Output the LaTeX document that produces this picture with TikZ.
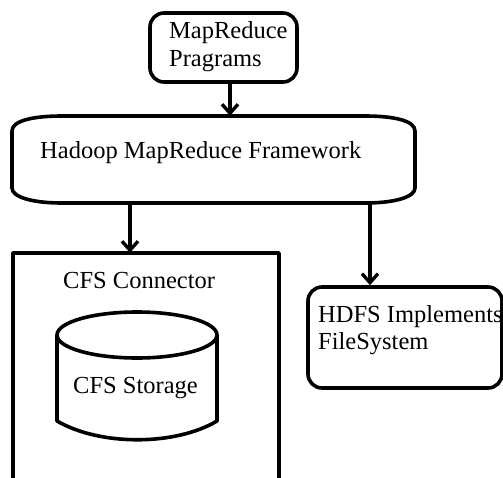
\documentclass[tikz,border=0pt]{standalone}
\usepackage{fontspec}
\setmainfont{Liberation Serif}
\usetikzlibrary{arrows.meta}
\tikzset{
  stroke/.style={line width=3.6pt, line join=round},
  arr/.style={stroke, -{Straight Barb[length=9pt, width=16pt, line width=3.4pt]}},
  rbox/.style={stroke, draw, rounded corners=14pt, inner sep=0pt},
  ghost/.style={draw=none, inner sep=0pt},
  lbl/.style={font=\fontsize{24.5}{27.5}\selectfont, inner sep=0pt, align=left}
}
\begin{document}
\begin{tikzpicture}[x=1pt, y=-1pt]
\useasboundingbox (0,0) rectangle (503,477);
\fill[white] (0,0) rectangle (503,477);

% top box
\node[rbox, minimum width=147pt, minimum height=69pt] (prog) at (223.5,47.5) {};
\node[lbl, anchor=west] (progtxt) at (169,46.5) {MapReduce\\Pragrams};

% framework block with wide elliptic corners
\node[ghost, minimum width=403pt, minimum height=87pt] (hadoop) at (213.5,159.5) {};
\draw[stroke] (62,116) -- (365,116)
  .. controls (395,116) and (415,121) .. (415,131) -- (415,188)
  .. controls (415,197) and (395,203) .. (365,203) -- (62,203)
  .. controls (32,203) and (12,197) .. (12,188) -- (12,131)
  .. controls (12,121) and (32,116) .. (62,116) -- cycle;
\node[lbl, anchor=base west] (hadooptxt) at (40,158) {Hadoop MapReduce Framework};

% connector frame, open at the bottom
\node[ghost, minimum width=266pt, minimum height=230pt] (cfs) at (146,368) {};
\draw[stroke] (13,480) -- (13,253) -- (279,253) -- (279,480);
\node[lbl, anchor=base west] (cfstxt) at (63,288) {CFS Connector};

% storage drum
\node[ghost, minimum width=160pt, minimum height=128pt] (store) at (137,376) {};
\draw[stroke] (137,335) ellipse [x radius=80pt, y radius=23pt];
\draw[stroke] (57,335) -- (57,421)
  .. controls (100,446) and (175,446) .. (217,421) -- (217,335);
\node[lbl, anchor=base west] (storetxt) at (73,393) {CFS Storage};

% file system box
\node[rbox, minimum width=194pt, minimum height=101pt] (hdfs) at (405,337.5) {};
\node[lbl, anchor=west] (hdfstxt) at (318,330) {HDFS Implements\\FileSystem};

% connectors
\coordinate (c1) at (230,0);
\coordinate (c2) at (130,0);
\coordinate (c3) at (370,0);
\draw[arr] (prog.south -| c1) -- (hadoop.north -| c1);
\draw[arr] (hadoop.south -| c2) -- (cfs.north -| c2);
\draw[arr] (hadoop.south -| c3) -- (hdfs.north -| c3);
\end{tikzpicture}
\end{document}
